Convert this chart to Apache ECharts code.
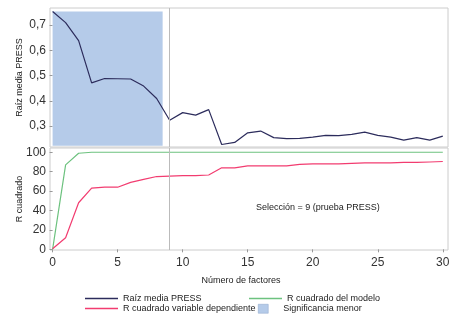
<!DOCTYPE html>
<html>
<head>
<meta charset="utf-8">
<script src="https://cdn.jsdelivr.net/npm/echarts@6/dist/echarts.min.js"></script>
<style>
    html, body { margin: 0; padding: 0; background: #fff; }
    #chart { width: 473px; height: 322px; }
</style>
</head>
<body>
<div id="chart"></div>
<script>
// número de factores
var factores = [0, 1, 2, 3, 4, 5, 6, 7, 8, 9, 10, 11, 12, 13, 14, 15, 16, 17, 18, 19, 20, 21, 22, 23, 24, 25, 26, 27, 28, 29, 30];
// raíz media PRESS
var pressData = [0.753, 0.709, 0.638, 0.471, 0.488, 0.487, 0.486, 0.458, 0.409, 0.323, 0.353, 0.343, 0.365, 0.227, 0.235, 0.273,
    0.280, 0.254, 0.250, 0.251, 0.256, 0.263, 0.262, 0.267, 0.276, 0.263, 0.256, 0.244, 0.254, 0.244, 0.260];
// R cuadrado del modelo
var modeloData = [0, 87, 99, 100, 100, 100, 100, 100, 100, 100, 100, 100, 100, 100, 100, 100,
    100, 100, 100, 100, 100, 100, 100, 100, 100, 100, 100, 100, 100, 100, 100];
// R cuadrado variable dependiente
var dependienteData = [0.6, 12, 48, 63, 64, 64, 69, 72, 75, 75.5, 76, 76, 76.6, 84, 84, 86,
    86, 86, 86, 87.5, 88, 88, 88, 88.5, 89, 89, 89, 89.5, 89.5, 90, 90.5];
var seleccion = 9;
var zonaSignificancia = [0, 8.46];
var pressTicks = [0.3, 0.4, 0.5, 0.6, 0.7];
var rTicks = [0, 20, 40, 60, 80, 100];
var xTicks = [0, 5, 10, 15, 20, 25, 30];

function pares(valores) {
    var res = [];
    for (var i = 0; i < factores.length; i++) {
        res.push([factores[i], valores[i]]);
    }
    return res;
}

var font = "Liberation Sans";
var colorPress = "#2c2c5c";
var colorModelo = "#6dc27f";
var colorDep = "#f23c70";
var colorZona = "#b5cbe9";

// una leyenda por entrada, para colocarlas como en el original
function leyenda(nombre, color, left, top) {
    return {
        left: left, top: top, padding: 0, itemWidth: 33, itemHeight: 1.5, icon: "rect",
        textStyle: {fontFamily: font, fontSize: 9, color: "#222"},
        data: [{name: nombre, icon: "rect", itemStyle: {color: color}}]
    };
}

var chart = echarts.init(document.getElementById("chart"), null, {renderer: "canvas"});
var option = {
    animation: false,
    textStyle: {fontFamily: font},
    grid: [
        {left: 50, top: 8, width: 398, height: 139, show: true, borderColor: "#cccccc", borderWidth: 1, backgroundColor: "transparent"},
        {left: 50, top: 148, width: 398, height: 102, show: true, borderColor: "#cccccc", borderWidth: 1, backgroundColor: "transparent"}
    ],
    xAxis: [
        {
            gridIndex: 0, type: "value", min: -0.2, max: 30.4,
            axisLine: {show: false}, axisTick: {show: false}, axisLabel: {show: false}, splitLine: {show: false}
        },
        {
            gridIndex: 1, type: "value", min: -0.2, max: 30.4,
            name: "Número de factores", nameLocation: "middle", nameGap: 26, nameMoveOverlap: false,
            nameTextStyle: {fontFamily: font, fontSize: 9, color: "#222", padding: [0, 16, 0, 0]},
            axisLine: {show: false},
            axisTick: {show: true, customValues: xTicks, length: 3, lineStyle: {color: "#999"}},
            axisLabel: {customValues: xTicks, fontFamily: font, fontSize: 12, color: "#333", margin: 7},
            splitLine: {show: false}
        }
    ],
    yAxis: [
        {
            gridIndex: 0, type: "value", min: 0.217, max: 0.767,
            name: "Raíz media PRESS", nameLocation: "middle", nameRotate: 90, nameGap: 26, nameMoveOverlap: false,
            nameTextStyle: {fontFamily: font, fontSize: 9, color: "#222"},
            axisLine: {show: false},
            axisTick: {show: true, customValues: pressTicks, length: 3, lineStyle: {color: "#999"}},
            axisLabel: {
                customValues: pressTicks, fontFamily: font, fontSize: 12, color: "#333", margin: 4,
                formatter: function (v) { return v.toFixed(1).replace(".", ","); }
            },
            splitLine: {show: false}
        },
        {
            gridIndex: 1, type: "value", min: -0.7, max: 104.4,
            name: "R cuadrado", nameLocation: "middle", nameRotate: 90, nameGap: 26, nameMoveOverlap: false,
            nameTextStyle: {fontFamily: font, fontSize: 9, color: "#222"},
            axisLine: {show: false},
            axisTick: {show: true, customValues: rTicks, length: 3, lineStyle: {color: "#999"}},
            axisLabel: {customValues: rTicks, fontFamily: font, fontSize: 12, color: "#333", margin: 4},
            splitLine: {show: false}
        }
    ],
    legend: [
        leyenda("Raíz media PRESS", colorPress, 85, 294),
        leyenda("R cuadrado variable dependiente", colorDep, 85, 304),
        leyenda("R cuadrado del modelo", colorModelo, 249, 294),
        {
            left: 258, top: 304, padding: 0, itemWidth: 10, itemHeight: 9,
            textStyle: {fontFamily: font, fontSize: 9, color: "#222", padding: [0, 0, 0, 10]},
            data: [{name: "Significancia menor", icon: "rect", itemStyle: {color: colorZona, borderColor: "#8aa4c8", borderWidth: 0.5}}]
        }
    ],
    graphic: [
        {
            type: "text", left: 256, top: 203,
            style: {text: "Selección = " + seleccion + " (prueba PRESS)", fontFamily: font, fontSize: 9, fill: "#222"}
        }
    ],
    series: [
        {
            name: "Significancia menor", type: "line", xAxisIndex: 0, yAxisIndex: 0, data: [],
            itemStyle: {color: colorZona},
            markArea: {
                silent: true,
                itemStyle: {color: colorZona, opacity: 1},
                data: [[{xAxis: zonaSignificancia[0], yAxis: 0.222}, {xAxis: zonaSignificancia[1], yAxis: 0.753}]]
            }
        },
        {
            name: "Raíz media PRESS", type: "line", xAxisIndex: 0, yAxisIndex: 0,
            symbol: "none", lineStyle: {color: colorPress, width: 1.2}, itemStyle: {color: colorPress},
            data: pares(pressData),
            markLine: {
                silent: true, symbol: "none", label: {show: false},
                lineStyle: {color: "#bbbbbb", width: 1, type: "solid"},
                data: [{xAxis: seleccion}]
            }
        },
        {
            name: "R cuadrado del modelo", type: "line", xAxisIndex: 1, yAxisIndex: 1,
            symbol: "none", lineStyle: {color: colorModelo, width: 1.2}, itemStyle: {color: colorModelo},
            data: pares(modeloData),
            markLine: {
                silent: true, symbol: "none", label: {show: false},
                lineStyle: {color: "#bbbbbb", width: 1, type: "solid"},
                data: [{xAxis: seleccion}]
            }
        },
        {
            name: "R cuadrado variable dependiente", type: "line", xAxisIndex: 1, yAxisIndex: 1,
            symbol: "none", lineStyle: {color: colorDep, width: 1.2}, itemStyle: {color: colorDep},
            data: pares(dependienteData)
        }
    ]
};
chart.setOption(option);
</script>
</body>
</html>
